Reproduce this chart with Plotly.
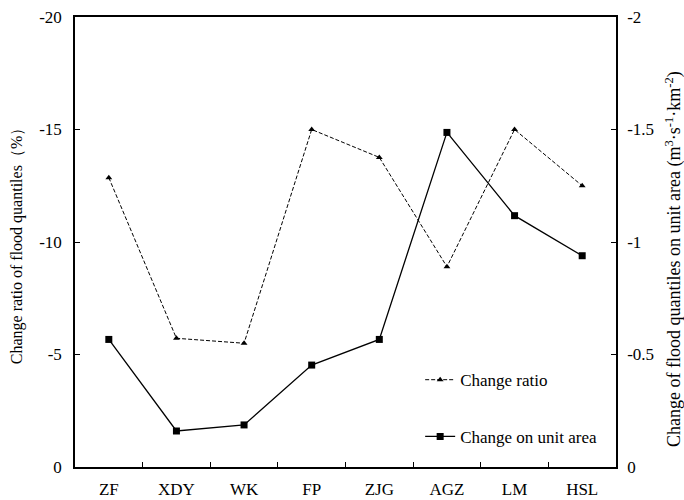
import plotly.graph_objects as go

categories = ["ZF", "XDY", "WK", "FP", "ZJG", "AGZ", "LM", "HSL"]
change_ratio = [-12.86, -5.72, -5.5, -15.0, -13.76, -8.9, -15.0, -12.5]
change_unit_area = [-0.567, -0.16, -0.187, -0.453, -0.567, -1.487, -1.117, -0.939]

left_ticks = [0, -5, -10, -15, -20]
left_ticktext = ["0", "-5", "-10", "-15", "-20"]
right_ticks = [0, -0.5, -1, -1.5, -2]
right_ticktext = ["0", "-0.5", "-1", "-1.5", "-2"]

font_family = "Liberation Serif"

fig = go.Figure()
fig.add_trace(go.Scatter(
    x=categories, y=change_ratio, name="Change ratio", mode="lines+markers",
    line=dict(color="black", width=1, dash="4px,2px"),
    marker=dict(symbol="triangle-up", size=6, color="black"),
    yaxis="y", legend="legend", showlegend=True))
fig.add_trace(go.Scatter(
    x=categories, y=change_unit_area, name="Change on unit area", mode="lines+markers",
    line=dict(color="black", width=1.3),
    marker=dict(symbol="square", size=7, color="black"),
    yaxis="y2", legend="legend2", showlegend=True))

axis_common = dict(showline=True, linecolor="black", linewidth=1.5, ticks="inside",
                   ticklen=5, tickcolor="black", showgrid=False, zeroline=False,
                   automargin=False,
                   tickfont=dict(family=font_family, size=17, color="black"))

fig.update_layout(
    width=684, height=500,
    showlegend=True,
    margin=dict(l=75, r=68, t=17, b=33),
    paper_bgcolor="white", plot_bgcolor="white",
    font=dict(family=font_family, size=17, color="black"),
    xaxis=dict(**axis_common, range=[-0.5, 7.5], tickson="boundaries", mirror=True,
               ticklabelstandoff=6),
    yaxis=dict(**axis_common, range=[0, -20], tickvals=left_ticks, ticktext=left_ticktext,
               ticklabelstandoff=8,
               title=dict(text="Change ratio of flood quantiles（%）",
                          font=dict(family=font_family, size=16), standoff=13)),
    yaxis2=dict(**axis_common, range=[0, -2], tickvals=right_ticks, ticktext=right_ticktext,
                ticklabelstandoff=6, overlaying="y", side="right"),
    legend=dict(x=0.638, y=0.193, xanchor="left", yanchor="middle", bgcolor="rgba(0,0,0,0)",
                font=dict(family=font_family, size=17)),
    legend2=dict(x=0.638, y=0.067, xanchor="left", yanchor="middle", bgcolor="rgba(0,0,0,0)",
                 font=dict(family=font_family, size=17)),
    annotations=[dict(
        text="Change of flood quantiles on unit area (m<sup>3</sup>·s<sup>-1</sup>·km<sup>-2</sup>)",
        xref="paper", yref="paper", x=1.107, y=0.462, xanchor="center", yanchor="middle",
        textangle=-90, showarrow=False, font=dict(family=font_family, size=18, color="black"))],
)

fig.write_html("out.html", config={"displayModeBar": False},
               post_script="document.body.style.margin='0';")
